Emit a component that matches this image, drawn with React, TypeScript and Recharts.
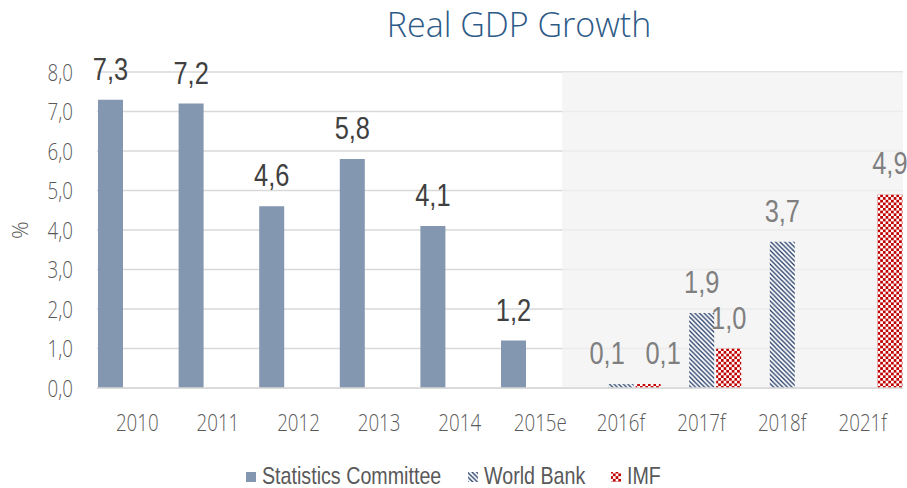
import React from 'react';
import {
  BarChart,
  Bar,
  XAxis,
  YAxis,
  CartesianGrid,
  ReferenceArea,
  LabelList,
} from 'recharts';

const categories = ['2010', '2011', '2012', '2013', '2014', '2015e', '2016f', '2017f', '2018f', '2021f'];
const statisticsCommittee = [7.3, 7.2, 4.6, 5.8, 4.1, 1.2, null, null, null, null];
const worldBank = [null, null, null, null, null, null, 0.1, 1.9, 3.7, null];
const imf = [null, null, null, null, null, null, 0.1, 1.0, null, 4.9];
const yTicks = [0, 1, 2, 3, 4, 5, 6, 7, 8];

const data = categories.map((c, i) => ({
  category: c,
  stats: statisticsCommittee[i],
  wb: worldBank[i],
  imf: imf[i],
}));

const CHART_W = 907;
const CHART_H = 488;
const MARGIN = { top: 72, right: 4, left: 0, bottom: 60 };
const Y_AXIS_W = 97;
const BAND_W = (CHART_W - MARGIN.left - MARGIN.right - Y_AXIS_W) / categories.length;

const fmt = (v: number) => v.toFixed(1).replace('.', ',');

const TICK_FONT = '"Open Sans", "Noto Sans", sans-serif';
const LABEL_FONT = '"Liberation Sans", Arial, sans-serif';
const NARROW = 0.82;

const XTick = (props: any) => {
  const { x, y, payload } = props;
  return (
    <g transform={`translate(${x},${y})`}>
      <text
        transform="scale(0.78,1)"
        textAnchor="middle"
        dy="0.71em"
        fontSize={24}
        fontWeight={300}
        fontFamily={TICK_FONT}
        fill="#595959"
      >
        {payload.value}
      </text>
    </g>
  );
};

const YTick = (props: any) => {
  const { x, y, payload } = props;
  return (
    <g transform={`translate(${x},${y})`}>
      <text
        transform="scale(0.78,1)"
        textAnchor="end"
        dy="0.36em"
        fontSize={24}
        fontWeight={300}
        fontFamily={TICK_FONT}
        fill="#595959"
      >
        {fmt(payload.value)}
      </text>
    </g>
  );
};

// labels of very small neighbouring bars are nudged sideways so they do not collide
const makeLabel = (color: string, smallShift: number) => (props: any) => {
  const { x, y, width, value } = props;
  if (value === null || value === undefined) return null;
  const v = Number(value);
  const dx = v < 0.5 ? smallShift : 0;
  const cx = Number(x) + Number(width) / 2 + dx;
  const cy = Number(y) - 20;
  return (
    <g transform={`translate(${cx},${cy}) scale(${NARROW},1)`}>
      <text x={0} y={0} textAnchor="middle" fontSize={31} fontFamily={LABEL_FONT} fill={color}>
        {fmt(v)}
      </text>
    </g>
  );
};

const PercentLabel = (props: any) => {
  const { viewBox } = props;
  const x = viewBox.x + 19;
  const y = viewBox.y + viewBox.height / 2;
  return (
    <text
      x={x}
      y={y}
      transform={`rotate(-90 ${x} ${y})`}
      textAnchor="middle"
      dominantBaseline="central"
      fontSize={22}
      fontWeight={300}
      fontFamily={TICK_FONT}
      fill="#595959"
    >
      %
    </text>
  );
};

const ForecastShade = (props: any) => {
  const { x, y, width, height } = props;
  const start = Number(x) + BAND_W * 0.77;
  const end = Number(x) + Number(width);
  return <rect x={start} y={y} width={end - start} height={height} fill="#f2f2f2" fillOpacity={0.75} />;
};

const PatternDefs = ({ prefix }: { prefix: string }) => (
  <defs>
    <pattern id={`${prefix}wb`} patternUnits="userSpaceOnUse" width="4.6" height="4.6">
      <rect width="4.6" height="4.6" fill="#ffffff" />
      <path d="M0,0 L4.6,4.6 M-1,3.6 L1,5.6 M3.6,-1 L5.6,1" stroke="#1F3864" strokeWidth="1.3" />
    </pattern>
    <pattern id={`${prefix}imf`} patternUnits="userSpaceOnUse" width="5.4" height="5.4">
      <rect width="5.4" height="5.4" fill="#ffffff" />
      <rect x="0" y="0" width="2.7" height="2.7" fill="#C00000" />
      <rect x="2.7" y="2.7" width="2.7" height="2.7" fill="#C00000" />
    </pattern>
  </defs>
);

const legendItems = [
  { key: 'stats', text: 'Statistics Committee', fill: '#8497B0', iconX: 246 },
  { key: 'wb', text: 'World Bank', fill: 'url(#lg-wb)', iconX: 468 },
  { key: 'imf', text: 'IMF', fill: 'url(#lg-imf)', iconX: 611 },
];

const ChartLegend = () => (
  <svg
    width={CHART_W}
    height={30}
    style={{ position: 'absolute', left: 0, top: 460 }}
  >
    <PatternDefs prefix="lg-" />
    {legendItems.map((it) => (
      <g key={it.key}>
        <rect x={it.iconX} y={12} width={10} height={10} fill={it.fill} />
        <g transform={`translate(${it.iconX + 16},${24}) scale(${NARROW},1)`}>
          <text x={0} y={0} fontSize={24} fontFamily={LABEL_FONT} fill="#595959">
            {it.text}
          </text>
        </g>
      </g>
    ))}
  </svg>
);

export default function App() {
  return (
    <div
      style={{
        position: 'absolute',
        left: 0,
        top: 0,
        width: CHART_W,
        height: CHART_H,
        background: '#ffffff',
        overflow: 'hidden',
      }}
    >
      <div
        style={{
          position: 'absolute',
          left: 319,
          width: 400,
          top: 1,
          textAlign: 'center',
          fontFamily: TICK_FONT,
          fontWeight: 300,
          fontSize: 34,
          lineHeight: 'normal',
          color: '#2E5A88',
          whiteSpace: 'nowrap',
        }}
      >
        Real GDP Growth
      </div>
      <BarChart
        width={CHART_W}
        height={CHART_H}
        data={data}
        margin={MARGIN}
        barCategoryGap={1}
        barGap={2}
      >
        <PatternDefs prefix="ch-" />
        <CartesianGrid horizontal vertical={false} stroke="#d9d9d9" strokeWidth={1.5} />
        <ReferenceArea
          x1="2015e"
          y1={0}
          y2={8}
          shape={<ForecastShade />}
        />
        <XAxis
          dataKey="category"
          height={40}
          tickLine={false}
          tickSize={0}
          tickMargin={26}
          axisLine={{ stroke: '#d9d9d9', strokeWidth: 1.5 }}
          tick={<XTick />}
          interval={0}
        />
        <YAxis
          width={Y_AXIS_W}
          domain={[0, 8]}
          ticks={yTicks}
          axisLine={false}
          tickLine={false}
          tickSize={0}
          tickMargin={24}
          tick={<YTick />}
          label={<PercentLabel />}
        />
        <Bar dataKey="stats" name="Statistics Committee" fill="#8497B0" isAnimationActive={false}>
          <LabelList dataKey="stats" content={makeLabel('#404040', 0)} />
        </Bar>
        <Bar dataKey="wb" name="World Bank" fill="url(#ch-wb)" isAnimationActive={false}>
          <LabelList dataKey="wb" content={makeLabel('#7F7F7F', -14)} />
        </Bar>
        <Bar dataKey="imf" name="IMF" fill="url(#ch-imf)" isAnimationActive={false}>
          <LabelList dataKey="imf" content={makeLabel('#7F7F7F', 15)} />
        </Bar>
      </BarChart>
      <ChartLegend />
    </div>
  );
}
